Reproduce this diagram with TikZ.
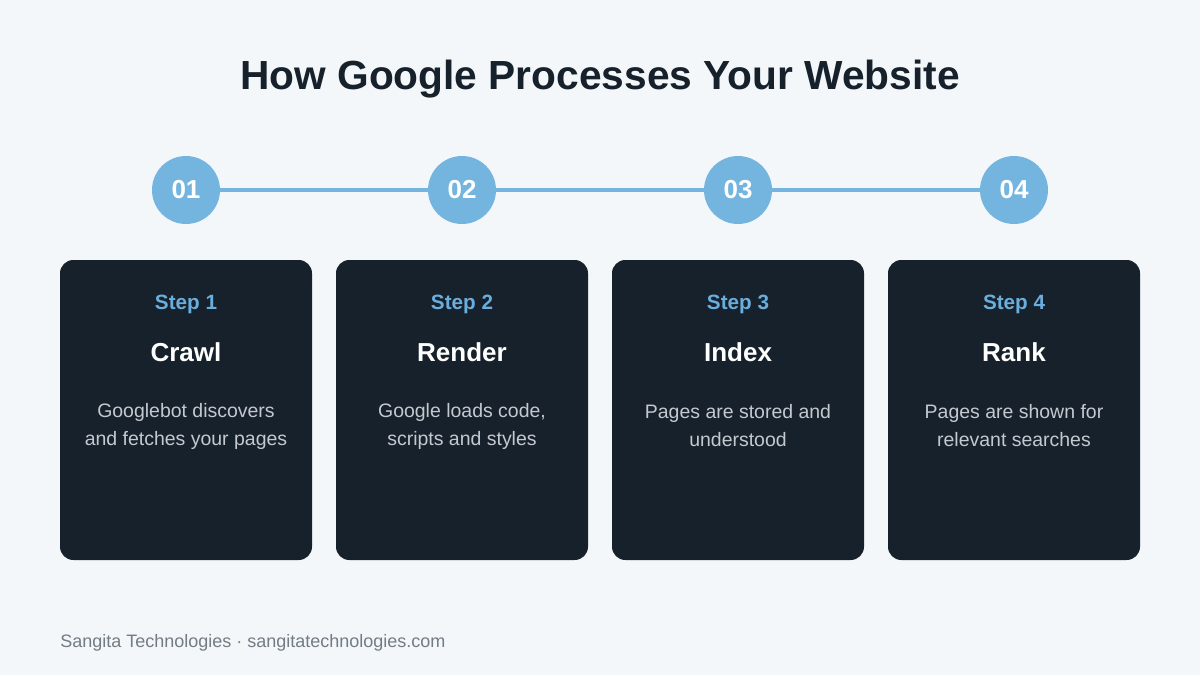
\documentclass[tikz,border=0pt]{standalone}
\usepackage{fontspec}
\setmainfont{Liberation Sans}
\usepackage{tikz}

\definecolor{bgpaper}{HTML}{F3F7FA}
\definecolor{inkdark}{HTML}{17212B}
\definecolor{skyblue}{HTML}{74B5E0}
\definecolor{stepblue}{HTML}{6AAEDD}
\definecolor{bodygray}{HTML}{C3C9CF}
\definecolor{footgray}{HTML}{737B85}

\tikzset{
  numdot/.style={circle,fill=skyblue,minimum size=51pt,inner sep=0pt,text=white,font=\bfseries\fontsize{19.5}{21}\selectfont},
  card/.style={rounded corners=10pt,fill=inkdark,minimum width=189pt,minimum height=225pt,inner sep=0pt},
  steplbl/.style={text=stepblue,font=\bfseries\fontsize{15.5}{17}\selectfont},
  stagelbl/.style={text=white,font=\bfseries\fontsize{19.5}{21}\selectfont},
  desc/.style={text=bodygray,align=center,font=\fontsize{14.6}{21}\selectfont}
}

\begin{document}
\begin{tikzpicture}[x=0.75pt,y=-0.75pt]
\path[fill=bgpaper] (0,0) rectangle (1200,675);
\useasboundingbox (0,0) rectangle (1200,675);

\path (600,79) node[text=inkdark,font=\bfseries\fontsize{30.5}{33}\selectfont] (title) {How Google Processes Your Website};

\path (186,190) node[numdot] (n1) {01};
\path (462,190) node[numdot] (n2) {02};
\path (738,190) node[numdot] (n3) {03};
\path (1014,190) node[numdot] (n4) {04};

\path[draw=skyblue,line width=3pt] (n1) -- (n2);
\path[draw=skyblue,line width=3pt] (n2) -- (n3);
\path[draw=skyblue,line width=3pt] (n3) -- (n4);

\path (186,410) node[card] (c1) {};
\path (462,410) node[card] (c2) {};
\path (738,410) node[card] (c3) {};
\path (1014,410) node[card] (c4) {};

\path (186,304) node[steplbl] (s1) {Step 1};
\path (462,304) node[steplbl] (s2) {Step 2};
\path (738,304) node[steplbl] (s3) {Step 3};
\path (1014,304) node[steplbl] (s4) {Step 4};

\path (186,352) node[stagelbl] (t1) {Crawl};
\path (462,352) node[stagelbl] (t2) {Render};
\path (738,352) node[stagelbl] (t3) {Index};
\path (1014,352) node[stagelbl] (t4) {Rank};

\path (186,426) node[desc] (d1) {Googlebot discovers\\and fetches your pages};
\path (462,426) node[desc] (d2) {Google loads code,\\scripts and styles};
\path (738,426) node[desc] (d3) {Pages are stored and\\understood};
\path (1014,426) node[desc] (d4) {Pages are shown for\\relevant searches};

\path (60,643) node[anchor=west,inner sep=0pt,text=footgray,font=\fontsize{13.5}{15}\selectfont] (foot) {Sangita Technologies · sangitatechnologies.com};
\end{tikzpicture}
\end{document}
